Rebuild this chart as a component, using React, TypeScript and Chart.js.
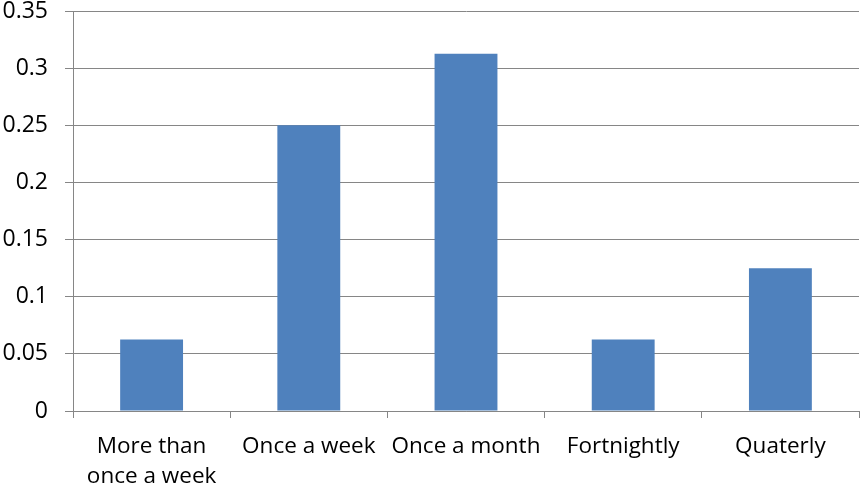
import React, { useEffect, useRef } from "react";
import { Chart, registerables } from "chart.js";

Chart.register(...registerables);

// Share of respondents by how often they do it
const categories: (string | string[])[] = [
  ["More than", "once a week"],
  "Once a week",
  "Once a month",
  "Fortnightly",
  "Quaterly",
];
const shares = [0.0625, 0.25, 0.3125, 0.0625, 0.125];

const yMax = 0.35;
const yStep = 0.05;

const barColor = "#4F81BD";
const axisColor = "#868686";
const fontFamily = "'Open Sans', sans-serif";

export default function App() {
  const canvasRef = useRef<HTMLCanvasElement | null>(null);

  useEffect(() => {
    if (!canvasRef.current) return;
    const chart = new Chart(canvasRef.current, {
      type: "bar",
      data: {
        labels: categories,
        datasets: [
          {
            data: shares,
            backgroundColor: barColor,
            borderWidth: 0,
            barPercentage: 0.4,
            categoryPercentage: 1,
          },
        ],
      },
      options: {
        animation: false,
        responsive: false,
        devicePixelRatio: 1,
        layout: { padding: { top: 11, right: 1, bottom: 0, left: 0 } },
        plugins: {
          legend: { display: false },
          tooltip: { enabled: false },
        },
        scales: {
          x: {
            offset: true,
            grid: {
              offset: true,
              drawOnChartArea: false,
              drawTicks: true,
              tickLength: 7,
              color: axisColor,
              lineWidth: 1,
            },
            border: { display: true, color: axisColor, width: 1 },
            ticks: {
              color: "#000",
              font: { family: fontFamily, size: 22.5, lineHeight: 30 / 22.5 },
              padding: 14,
              maxRotation: 0,
              autoSkip: false,
            },
            afterFit: (scale: any) => {
              scale.height = 80;
              scale.paddingLeft = 0;
              scale.paddingRight = 0;
            },
          },
          y: {
            min: 0,
            max: yMax,
            grid: {
              color: axisColor,
              lineWidth: 1,
              drawTicks: true,
              tickLength: 8,
            },
            border: { display: true, color: axisColor, width: 1 },
            ticks: {
              stepSize: yStep,
              color: "#000",
              font: { family: fontFamily, size: 23 },
              padding: 17,
              callback: (v: any) => String(Number(Number(v).toFixed(2))),
            },
            afterFit: (scale: any) => {
              scale.width = 73;
              scale.paddingTop = 0;
              scale.paddingBottom = 0;
            },
          },
        },
      },
    });
    return () => chart.destroy();
  }, []);

  return (
    <div
      style={{
        position: "fixed",
        left: 0,
        top: 0,
        width: 860,
        height: 491,
        background: "#fff",
      }}
    >
      <canvas ref={canvasRef} width={860} height={491} />
    </div>
  );
}
